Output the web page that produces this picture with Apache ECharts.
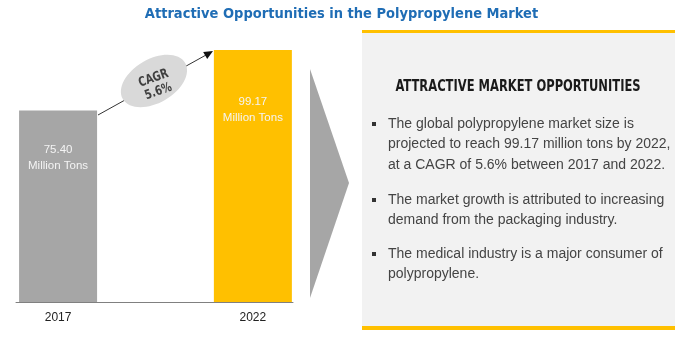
<!DOCTYPE html>
<html><head><meta charset="utf-8">
<script src="https://cdn.jsdelivr.net/npm/echarts@6/dist/echarts.min.js"></script>
<style>html,body{margin:0;padding:0;background:#fff}#c{width:683px;height:343px}</style>
</head><body><div id="c"></div>
<script>
const chartTitle = 'Attractive Opportunities in the Polypropylene Market';
const years = [2017, 2022];
const values = [75.40, 99.17];
const valueLabels = ['75.40\nMillion Tons', '99.17\nMillion Tons'];
const cagrText = 'CAGR\n5.6%';
const panelHeading = 'ATTRACTIVE MARKET OPPORTUNITIES';
const bullets = [
  ['The global polypropylene market size is', 'projected to reach 99.17 million tons by 2022,', 'at a CAGR of 5.6% between 2017 and 2022.'],
  ['The market growth is attributed to increasing', 'demand from the packaging industry.'],
  ['The medical industry is a major consumer of', 'polypropylene.']
];

const barColors = ['#a6a6a6', '#ffc000'];
const labelDist = [31, 44];
const NARROW = "'Liberation Sans Narrow','DejaVu Sans Condensed',sans-serif";

const chart = echarts.init(document.getElementById('c'), null, {renderer: 'canvas'});

const graphics = [];
// right panel
graphics.push({type:'rect', shape:{x:362,y:31,width:313,height:297}, style:{fill:'#f2f2f2'}, z:1});
graphics.push({type:'rect', shape:{x:362,y:30,width:313,height:3}, style:{fill:'#ffc000'}, z:2});
graphics.push({type:'rect', shape:{x:362,y:326,width:313,height:4}, style:{fill:'#ffc000'}, z:2});
graphics.push({type:'text', x:518, y:87, scaleX:0.8, style:{text:panelHeading, font:"bold 16px "+NARROW, fill:'#1a1a1a', align:'center', verticalAlign:'middle'}, z:3});
const bulletStarts = [124, 200, 254];
bullets.forEach((lines, i) => {
  graphics.push({type:'rect', shape:{x:372,y:bulletStarts[i]-2,width:4,height:4}, style:{fill:'#333'}, z:3});
  lines.forEach((ln, j) => {
    graphics.push({type:'text', x:388, y:bulletStarts[i]+j*20.5, style:{text:ln, font:"14px 'Liberation Sans',sans-serif", fill:'#444', align:'left', verticalAlign:'middle'}, z:3});
  });
});
// big gray arrow
graphics.push({type:'polygon', shape:{points:[[310,69],[349,183],[310,298]]}, style:{fill:'#a6a6a6'}, z:1});
// CAGR arrow
graphics.push({type:'line', shape:{x1:98,y1:115,x2:206,y2:55}, style:{stroke:'#333', lineWidth:1}, z:3});
graphics.push({type:'polygon', shape:{points:[[213,51],[207.2,58.9],[203.2,51.9]]}, style:{fill:'#111'}, z:3});
graphics.push({type:'ellipse', x:154, y:81, rotation:30*Math.PI/180, shape:{cx:0,cy:0,rx:36,ry:22}, style:{fill:'#d9d9d9'}, z:4});
graphics.push({type:'text', x:156, y:85, rotation:20*Math.PI/180, scaleX:0.85, style:{text:cagrText, font:"bold 13px "+NARROW, fill:'#404040', align:'center', verticalAlign:'middle', lineHeight:14}, z:5});

chart.setOption({
  animation: false,
  title: {text: chartTitle, left: 'center', top: 2, textStyle: {fontFamily: NARROW, fontWeight: 'bold', fontSize: 14.5, color: '#1f6db5'}},
  grid: {left: 16, right: 390, top: 50, bottom: 41},
  xAxis: {
    type: 'value', min: 2015.92, max: 2023.03,
    axisLine: {show: true, lineStyle: {color: '#808080', width: 1}},
    axisTick: {show: false}, splitLine: {show: false},
    axisLabel: {customValues: years, formatter: v => String(v), color: '#222', fontSize: 12, fontFamily: "'Liberation Sans',sans-serif", margin: 10}
  },
  yAxis: {type: 'value', min: 0, max: 99.17, show: false},
  series: [{
    type: 'bar', barWidth: 78, z: 2,
    data: years.map((y, i) => ({
      value: [y, values[i]],
      itemStyle: {color: barColors[i]},
      label: {show: true, position: 'insideTop', distance: labelDist[i], formatter: valueLabels[i], color: '#f4f4f4', fontSize: 11.5, fontFamily: "'Liberation Sans',sans-serif", lineHeight: 16, align: 'center'}
    }))
  }],
  graphic: graphics
});
</script></body></html>
